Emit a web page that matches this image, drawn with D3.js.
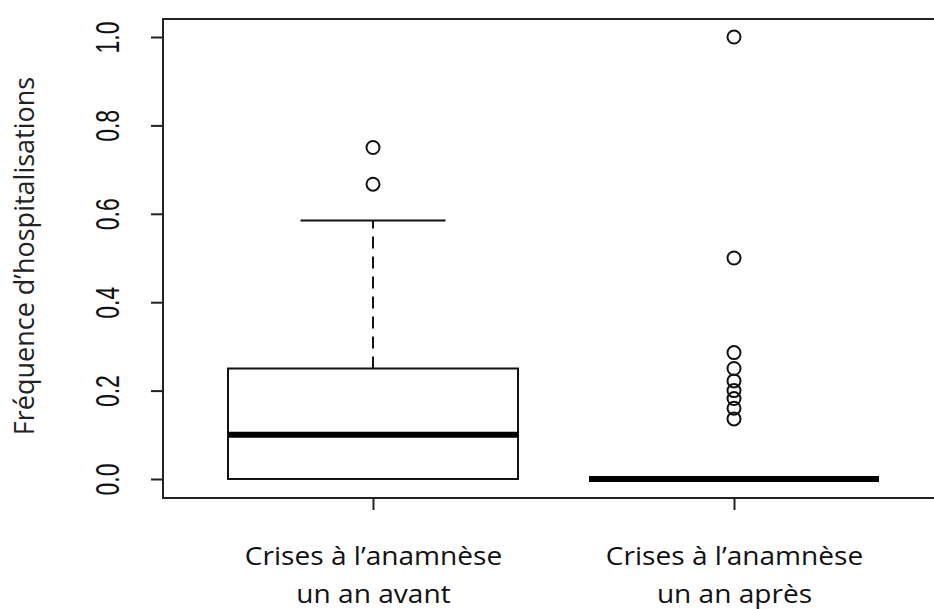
<!DOCTYPE html>
<html>
<head>
<meta charset="utf-8">
<script src="https://cdn.jsdelivr.net/npm/d3@7"></script>
<style>
  body { margin: 0; background: #fff; }
  svg { display: block; }
</style>
</head>
<body>
<div id="chart"></div>
<script>
const groups = ["Crises à l’anamnèse|un an avant", "Crises à l’anamnèse|un an après"];
const q1 = [0, 0];
const medians = [0.1, 0];
const q3 = [0.25, 0];
const whiskerLow = [0, 0];
const whiskerHigh = [0.585, 0];
const outliers = [
    [0.667, 0.75],
    [1.0, 0.5, 0.286, 0.25, 0.222, 0.2, 0.182, 0.16, 0.136]
];
const yTicks = [0, 0.2, 0.4, 0.6, 0.8, 1.0];

const W = 934, H = 609;
const margin = {top: 19, right: -10, bottom: 111, left: 163};
const width = W - margin.left - margin.right,
    height = H - margin.top - margin.bottom;

const svg = d3.select("#chart").append("svg")
    .attr("width", W)
    .attr("height", H)
    .append("g")
    .attr("transform", "translate(" + margin.left + "," + margin.top + ")");

// y scale: 1.0 at px 37, 0.0 at px 479
const y = d3.scaleLinear()
    .domain([0, 1])
    .range([479 - margin.top, 37 - margin.top]);

const x = d3.scalePoint()
    .domain(groups)
    .range([373 - margin.left, 734 - margin.left]);

const boxW = 290;

// frame
svg.append("rect")
    .attr("x", 0).attr("y", 0)
    .attr("width", width).attr("height", height)
    .attr("fill", "none")
    .attr("stroke", "#222")
    .attr("stroke-width", 2);

// y axis
const yAxis = svg.append("g")
    .call(d3.axisLeft(y).tickValues(yTicks).tickFormat(d3.format(".1f")).tickSize(12));
yAxis.select(".domain").remove();
yAxis.selectAll(".tick line").attr("stroke", "#222").attr("stroke-width", 2);
yAxis.selectAll(".tick text")
    .attr("x", 0).attr("dy", 0)
    .attr("transform", "translate(-56,0) rotate(-90) scale(1,1.45)")
    .attr("text-anchor", "middle")
    .attr("dominant-baseline", "central")
    .style("font-family", "'Liberation Sans', Arial, sans-serif")
    .style("font-size", "23px")
    .style("fill", "#111");

// x axis
const xAxis = svg.append("g")
    .attr("transform", "translate(0," + height + ")")
    .call(d3.axisBottom(x).tickSize(12).tickFormat(""));
xAxis.select(".domain").remove();
xAxis.selectAll(".tick line").attr("stroke", "#222").attr("stroke-width", 2);
xAxis.selectAll(".tick").each(function (d) {
    const lines = d.split("|");
    const t = d3.select(this).append("text")
        .attr("fill", "#111")
        .attr("text-anchor", "middle")
        .attr("transform", "scale(1.17,1.08)")
        .style("font-family", "'Open Sans', sans-serif")
        .style("font-size", "24px");
    lines.forEach(function (l, i) {
        t.append("tspan").attr("x", 0).attr("y", 62 + i * 35).text(l);
    });
});

// y label
svg.append("text")
    .attr("transform", "translate(" + (34 - margin.left) + "," + (256 - margin.top) + ") rotate(-90)")
    .attr("text-anchor", "middle")
    .style("font-family", "'Open Sans', sans-serif")
    .style("font-size", "27px")
    .style("fill", "#222")
    .text("Fréquence d’hospitalisations");

// boxes
groups.forEach(function (g, i) {
    const cx = x(g);
    const gg = svg.append("g");
    // whisker
    if (whiskerHigh[i] > q3[i]) {
        gg.append("line")
            .attr("x1", cx).attr("x2", cx)
            .attr("y1", y(q3[i])).attr("y2", y(whiskerHigh[i]))
            .attr("stroke", "#111").attr("stroke-width", 2)
            .attr("stroke-dasharray", "12,8");
        gg.append("line")
            .attr("x1", cx - boxW / 4).attr("x2", cx + boxW / 4)
            .attr("y1", y(whiskerHigh[i])).attr("y2", y(whiskerHigh[i]))
            .attr("stroke", "#111").attr("stroke-width", 2);
    }
    if (q3[i] > q1[i]) {
        gg.append("rect")
            .attr("x", cx - boxW / 2).attr("width", boxW)
            .attr("y", y(q3[i])).attr("height", y(q1[i]) - y(q3[i]))
            .attr("fill", "none").attr("stroke", "#111").attr("stroke-width", 2);
    }
    gg.append("line")
        .attr("x1", cx - boxW / 2).attr("x2", cx + boxW / 2)
        .attr("y1", y(medians[i])).attr("y2", y(medians[i]))
        .attr("stroke", "#000").attr("stroke-width", 6);
    gg.selectAll("circle")
        .data(outliers[i])
        .enter()
        .append("circle")
        .attr("cx", cx)
        .attr("cy", function (d) { return y(d); })
        .attr("r", 6.5)
        .attr("fill", "none")
        .attr("stroke", "#111")
        .attr("stroke-width", 2);
});
</script>
</body>
</html>
